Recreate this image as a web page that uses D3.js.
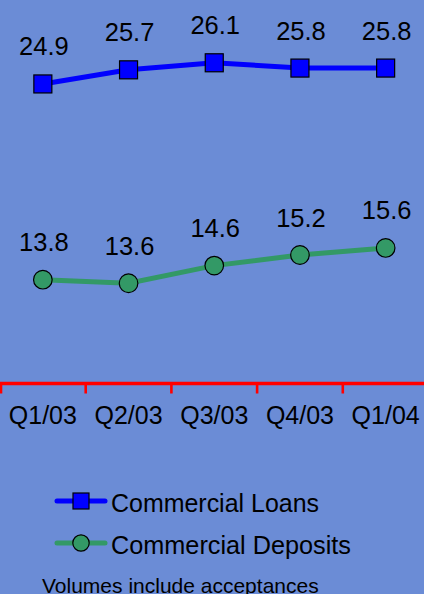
<!DOCTYPE html>
<meta charset="utf-8">
<title>Commercial Loans and Deposits</title>
<style>
  html, body { margin: 0; padding: 0; background: #6b8cd6; }
  svg { display: block; font-family: "Liberation Sans", Arial, sans-serif; }
  .label { font-size: 25.5px; fill: #000; text-anchor: middle; }
  .xlabel { font-size: 25px; }
  .legend text { font-size: 26.5px; fill: #000; }
  .note { font-size: 21px; fill: #000; }
</style>
<body>
<svg width="424" height="594"></svg>
<script src="https://d3js.org/d3.v7.min.js"></script>
<script>
  // quarters on the x axis
  var quarters = ["Q1/03", "Q2/03", "Q3/03", "Q4/03", "Q1/04"];
  // volumes ($B)
  var loans = [24.9, 25.7, 26.1, 25.8, 25.8];
  var deposits = [13.8, 13.6, 14.6, 15.2, 15.6];

  var seriesNames = ["Commercial Loans", "Commercial Deposits"];
  var blue = "#0000ff", green = "#339966";

  var svg = d3.select("svg");

  svg.append("rect")
    .attr("width", 424).attr("height", 594)
    .attr("fill", "#6b8cd6");

  var x = d3.scaleBand().domain(quarters).range([0, 428.5]);
  var y = d3.scaleLinear().domain([8, 30]).range([382, -6]);
  var cx = function (q) { return x(q) + x.bandwidth() / 2; };

  var line = d3.line()
    .x(function (d, i) { return cx(quarters[i]); })
    .y(function (d) { return y(d); });

  // axis
  var axisY = y(8) + 1.5;
  svg.append("line")
    .attr("x1", 0).attr("x2", 424)
    .attr("y1", axisY).attr("y2", axisY)
    .attr("stroke", "#ff0000").attr("stroke-width", 3.3);

  svg.selectAll(".tick")
    .data(quarters)
    .enter().append("line")
    .attr("class", "tick")
    .attr("x1", function (d) { return Math.max(1, x(d)); })
    .attr("x2", function (d) { return Math.max(1, x(d)); })
    .attr("y1", axisY).attr("y2", axisY + 10)
    .attr("stroke", "#ff0000").attr("stroke-width", 2.6);

  svg.selectAll(".xlabel")
    .data(quarters)
    .enter().append("text")
    .attr("class", "label xlabel")
    .attr("x", function (d) { return cx(d); })
    .attr("y", 424)
    .text(function (d) { return d; });

  // loans
  svg.append("path")
    .datum(loans)
    .attr("d", line)
    .attr("fill", "none")
    .attr("stroke", blue)
    .attr("stroke-width", 5);

  svg.selectAll(".sq")
    .data(loans)
    .enter().append("rect")
    .attr("class", "sq")
    .attr("x", function (d, i) { return cx(quarters[i]) - 9; })
    .attr("y", function (d) { return y(d) - 9; })
    .attr("width", 18).attr("height", 18)
    .attr("fill", blue)
    .attr("stroke", "#000").attr("stroke-width", 1.2);

  svg.selectAll(".lv")
    .data(loans)
    .enter().append("text")
    .attr("class", "label lv")
    .attr("x", function (d, i) { return cx(quarters[i]) + 1; })
    .attr("y", function (d) { return y(d) - 28.5; })
    .text(function (d) { return d.toFixed(1); });

  // deposits
  svg.append("path")
    .datum(deposits)
    .attr("d", line)
    .attr("fill", "none")
    .attr("stroke", green)
    .attr("stroke-width", 5);

  svg.selectAll(".dot")
    .data(deposits)
    .enter().append("circle")
    .attr("class", "dot")
    .attr("cx", function (d, i) { return cx(quarters[i]); })
    .attr("cy", function (d) { return y(d); })
    .attr("r", 9.3)
    .attr("fill", green)
    .attr("stroke", "#000").attr("stroke-width", 1.2);

  svg.selectAll(".dv")
    .data(deposits)
    .enter().append("text")
    .attr("class", "label dv")
    .attr("x", function (d, i) { return cx(quarters[i]) + 1; })
    .attr("y", function (d) { return y(d) - 28.5; })
    .text(function (d) { return d.toFixed(1); });

  // legend
  var legend = svg.append("g").attr("class", "legend");
  var rows = [{ name: seriesNames[0], color: blue, y: 501, w: 208 },
              { name: seriesNames[1], color: green, y: 543, w: 240 }];

  var row = legend.selectAll("g")
    .data(rows)
    .enter().append("g")
    .attr("transform", function (d) { return "translate(0," + d.y + ")"; });

  row.append("line")
    .attr("x1", 57).attr("x2", 105)
    .attr("stroke", function (d) { return d.color; })
    .attr("stroke-width", 5)
    .attr("stroke-linecap", "round");

  row.filter(function (d, i) { return i === 0; })
    .append("rect")
    .attr("x", 73).attr("y", -8)
    .attr("width", 16).attr("height", 16)
    .attr("fill", blue)
    .attr("stroke", "#000").attr("stroke-width", 1.2);

  row.filter(function (d, i) { return i === 1; })
    .append("circle")
    .attr("cx", 81).attr("r", 8.2)
    .attr("fill", green)
    .attr("stroke", "#000").attr("stroke-width", 1.2);

  row.append("text")
    .attr("x", 111)
    .attr("y", 11)
    .attr("textLength", function (d) { return d.w; })
    .attr("lengthAdjust", "spacingAndGlyphs")
    .text(function (d) { return d.name; });

  svg.append("text")
    .attr("class", "note")
    .attr("x", 42)
    .attr("y", 593)
    .text("Volumes include acceptances");
</script>
</body>
